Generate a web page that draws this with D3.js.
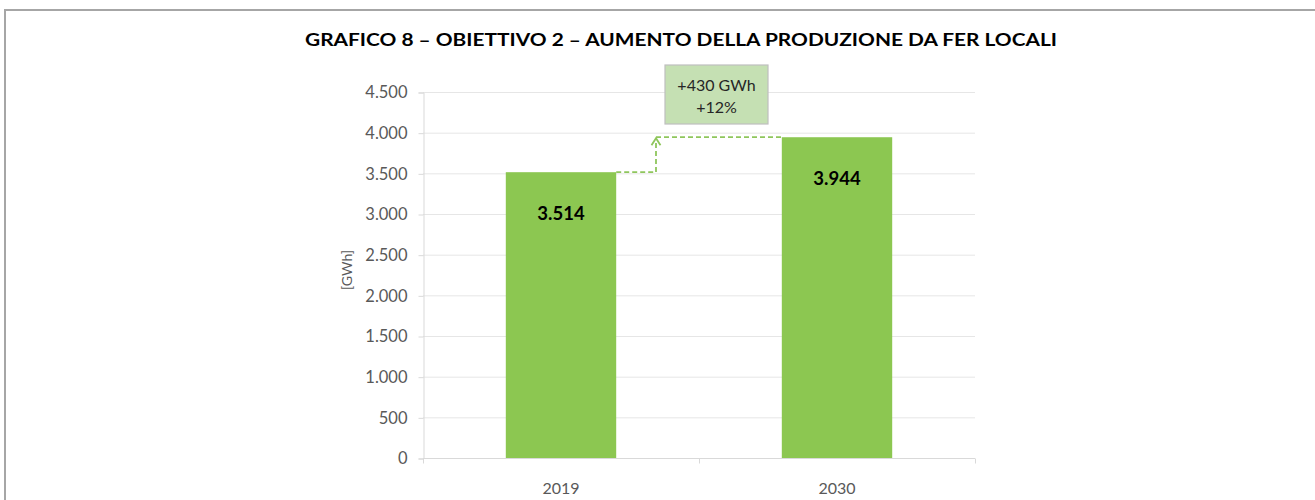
<!DOCTYPE html>
<html><head><meta charset="utf-8">
<script src="https://cdn.jsdelivr.net/npm/d3@7"></script>
<style>body{margin:0;background:#fff}svg{display:block}</style>
</head><body>
<svg id="c" width="1315" height="500"></svg>
<script>
const categories = ["2019", "2030"];
const values = [3514, 3944];
const valueLabels = ["3.514", "3.944"];
const yTicks = [0, 500, 1000, 1500, 2000, 2500, 3000, 3500, 4000, 4500];
const yTickLabels = ["0", "500", "1.000", "1.500", "2.000", "2.500", "3.000", "3.500", "4.000", "4.500"];
const title = "GRAFICO 8 – OBIETTIVO 2 –  AUMENTO DELLA PRODUZIONE DA FER LOCALI";
const yTitle = "[GWh]";
const annotation = ["+430 GWh", "+12%"];

const svg = d3.select("#c");
const font = "Lato, 'Open Sans', sans-serif";

// outer frame
svg.append("line").attr("x1",4).attr("x2",1315).attr("y1",10).attr("y2",10).attr("stroke","#a6a6a6").attr("stroke-width",2);
svg.append("line").attr("x1",5).attr("x2",5).attr("y1",9).attr("y2",500).attr("stroke","#a6a6a6").attr("stroke-width",2);

svg.append("text").attr("x",681).attr("y",46).attr("text-anchor","middle")
  .attr("font-family",font).attr("font-weight","bold").attr("font-size",16.5)
  .attr("textLength",752).attr("lengthAdjust","spacingAndGlyphs")
  .attr("fill","#000").text(title);

const L = 423, R = 975, T = 92, B = 458;
const x = d3.scaleBand().domain(categories).range([L, R]).paddingInner(0.6).paddingOuter(0.3);
const y = d3.scaleLinear().domain([0, 4500]).range([B, T]);

// gridlines
svg.append("g").selectAll("line").data(yTicks.filter(d=>d>0)).join("line")
  .attr("x1",L).attr("x2",R).attr("y1",d=>y(d)+0.5).attr("y2",d=>y(d)+0.5)
  .attr("stroke","#e6e6e6").attr("stroke-width",1);

// y axis
const yAxis = d3.axisLeft(y).tickValues(yTicks).tickFormat((d,i)=>yTickLabels[i]).tickSize(5).tickPadding(11);
const gy = svg.append("g").attr("transform",`translate(${L+0.5},0.5)`).call(yAxis);
gy.select(".domain").attr("stroke","#d9d9d9");
gy.selectAll(".tick line").attr("stroke","#d9d9d9");
gy.selectAll(".tick text").attr("font-family",font).attr("font-size",16.5).attr("fill","#595959");

// x axis
const gx = svg.append("g").attr("transform",`translate(0,${B+0.5})`);
gx.append("line").attr("x1",L).attr("x2",R).attr("y1",0).attr("y2",0).attr("stroke","#d9d9d9");
const bounds = [L, L + (R-L)/2, R];
gx.selectAll("line.tk").data(bounds).join("line").attr("class","tk")
  .attr("x1",d=>d+0.5).attr("x2",d=>d+0.5).attr("y1",0).attr("y2",5).attr("stroke","#d9d9d9");
gx.selectAll("text").data(categories).join("text")
  .attr("x",d=>x(d)+x.bandwidth()/2).attr("y",35).attr("text-anchor","middle")
  .attr("font-family",font).attr("font-size",16).attr("fill","#595959").text(d=>d);

// y title
svg.append("text").attr("transform",`translate(352,270) rotate(-90)`).attr("text-anchor","middle")
  .attr("font-family",font).attr("font-size",14).attr("fill","#595959").text(yTitle);

// bars
svg.append("g").selectAll("rect").data(values).join("rect")
  .attr("x",(d,i)=>x(categories[i])).attr("width",x.bandwidth())
  .attr("y",d=>y(d)).attr("height",d=>B-y(d)).attr("fill","#8cc751");

// value labels
svg.append("g").selectAll("text").data(values).join("text")
  .attr("x",(d,i)=>x(categories[i])+x.bandwidth()/2).attr("y",d=>y(d)+48)
  .attr("text-anchor","middle").attr("font-family",font).attr("font-weight","bold")
  .attr("font-size",18.5).attr("fill","#000").text((d,i)=>valueLabels[i]);

// dashed step connector
const x1 = x(categories[0]) + x.bandwidth();
const x2 = x(categories[1]);
const xm = 656;
const dash = "#8fc65c";
svg.append("path")
  .attr("d",`M${x1},${y(values[0])} H${xm} V${y(values[1])+1} M${xm},${y(values[1])} H${x2}`)
  .attr("fill","none").attr("stroke",dash).attr("stroke-width",1.8).attr("stroke-dasharray","5,3");
svg.append("path")
  .attr("d",`M${xm-4.5},${y(values[1])+8} L${xm},${y(values[1])+1} L${xm+4.5},${y(values[1])+8}`)
  .attr("fill","none").attr("stroke",dash).attr("stroke-width",1.8);

// annotation box
svg.append("rect").attr("x",665).attr("y",65).attr("width",103).attr("height",59)
  .attr("fill","#c5e0b3").attr("stroke","#bfbfbf").attr("stroke-width",1.2);
svg.append("g").selectAll("text").data(annotation).join("text")
  .attr("x",716.5).attr("y",(d,i)=>91+i*22).attr("text-anchor","middle")
  .attr("font-family",font).attr("font-size",16).attr("fill","#262626").text(d=>d);
</script>
</body></html>
